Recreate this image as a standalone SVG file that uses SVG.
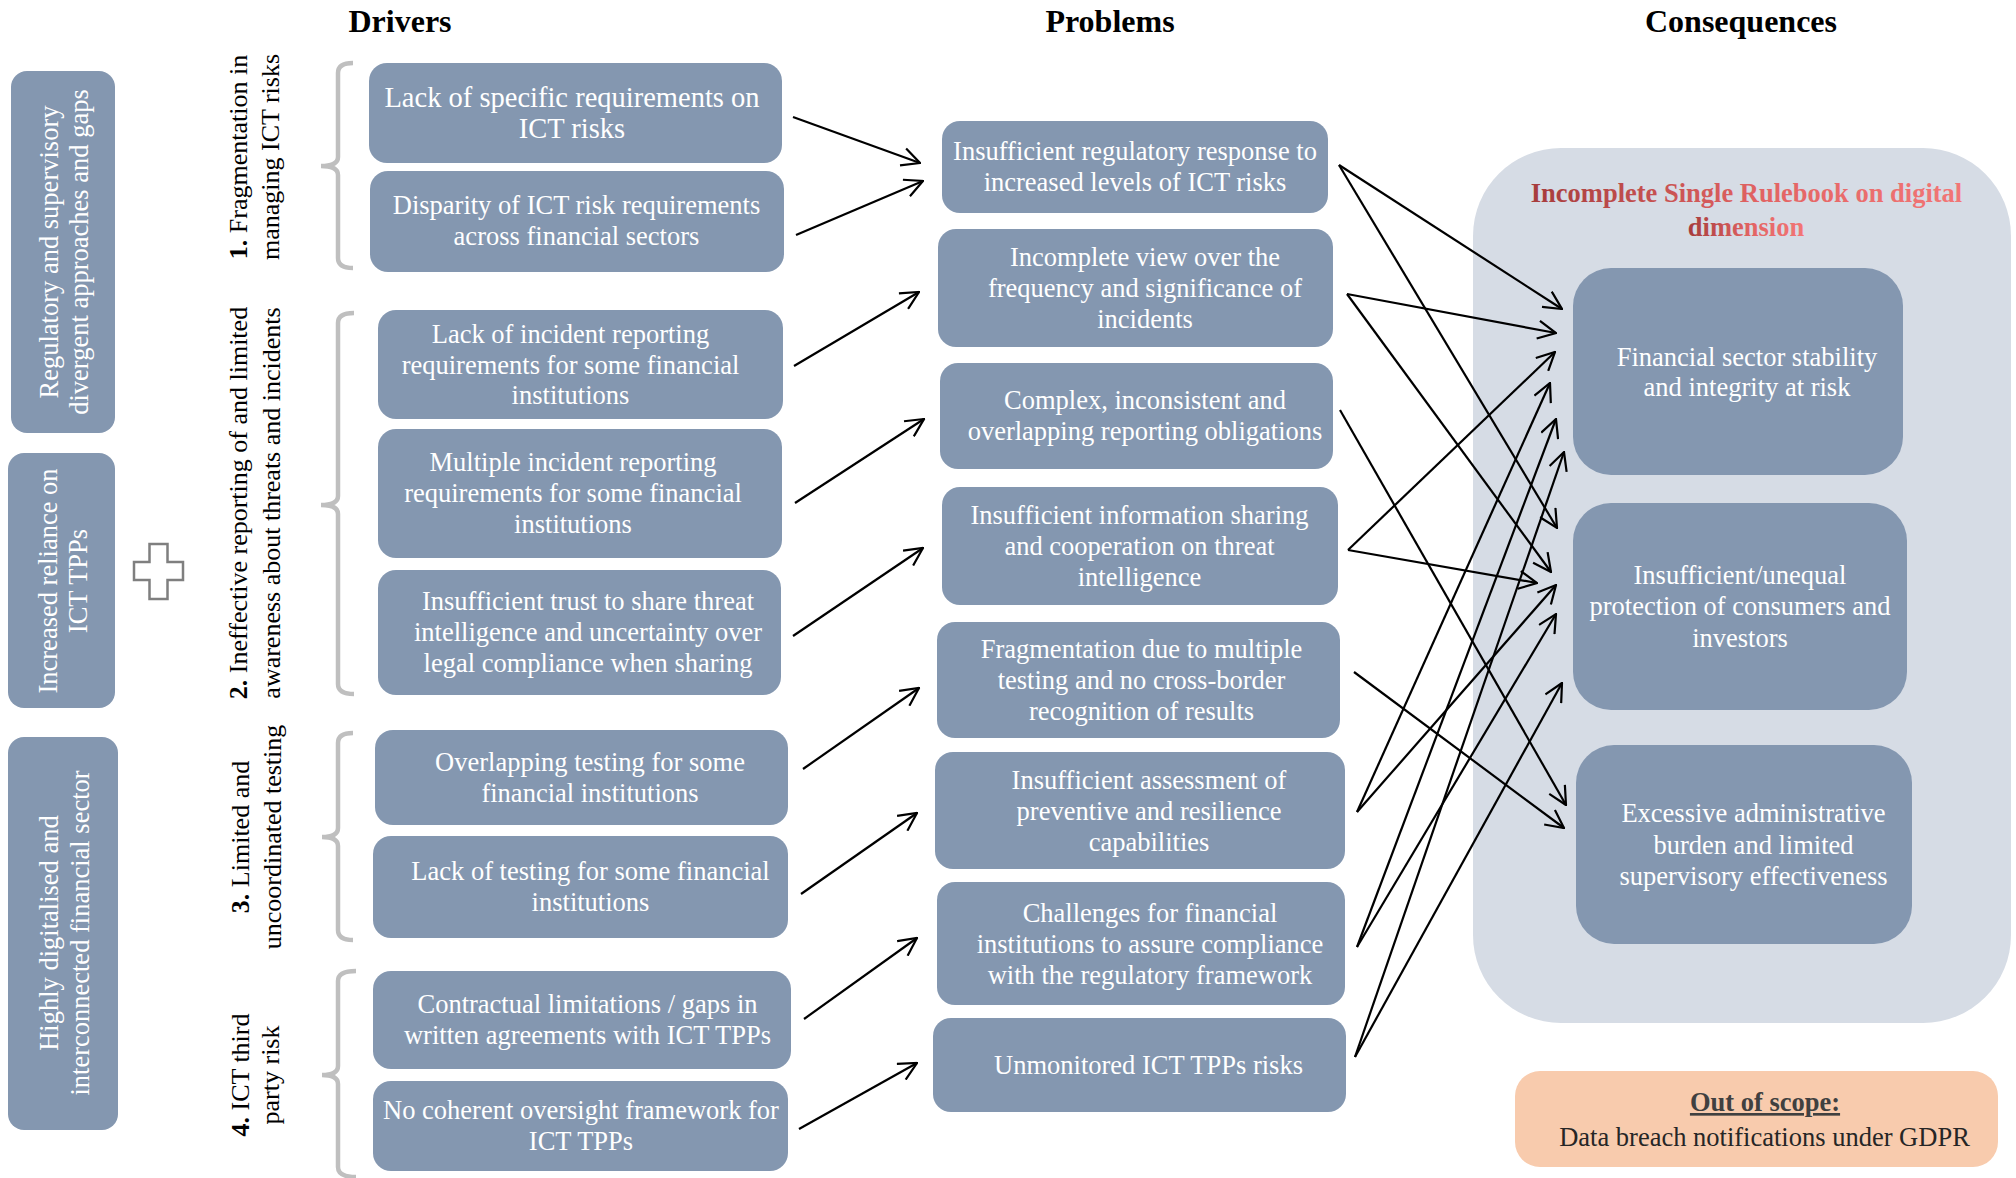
<svg xmlns="http://www.w3.org/2000/svg" width="2016" height="1178" viewBox="0 0 2016 1178">
<style>
text{font-family:"Liberation Serif","Times New Roman",serif}
.box{fill:#8497B0}
.bt{fill:#FFFFFF;font-size:26.5px;text-anchor:middle}
.hd{font-size:32px;font-weight:bold;text-anchor:middle;fill:#000}
.vl{font-size:26px;text-anchor:middle;fill:#000}
.br{fill:none;stroke:#BFBFBF;stroke-width:4.5}
.cn{fill:none;stroke:#000;stroke-width:2.2}
</style>
<defs>
<marker id="ah" markerUnits="userSpaceOnUse" markerWidth="20" markerHeight="20" viewBox="0 0 20 20" refX="19" refY="10" orient="auto">
<path d="M1,1 L19,10 L1,19" fill="none" stroke="#000" stroke-width="2.2"/>
</marker>
<linearGradient id="red" x1="0" y1="0" x2="1" y2="0">
<stop offset="0" stop-color="#A63C3C"/>
<stop offset="0.55" stop-color="#E36464"/>
<stop offset="1" stop-color="#F27676"/>
</linearGradient>
</defs>
<rect width="2016" height="1178" fill="#FFFFFF"/>

<g id="headers">
<text class="hd" x="400" y="31.5">Drivers</text>
<text class="hd" x="1110" y="31.5">Problems</text>
<text class="hd" x="1741" y="31.5">Consequences</text>
</g>

<g id="context-a">
<rect class="box" x="11" y="71" width="104" height="362" rx="16"/>
<text class="bt" transform="translate(58,252) rotate(-90)">Regulatory and supervisory</text>
<text class="bt" transform="translate(88,252) rotate(-90)">divergent approaches and gaps</text>
</g>
<g id="context-b">
<rect class="box" x="8" y="453" width="107" height="255" rx="16"/>
<text class="bt" transform="translate(57,581) rotate(-90)">Increased reliance on</text>
<text class="bt" transform="translate(87,581) rotate(-90)">ICT TPPs</text>
</g>
<g id="context-c">
<rect class="box" x="8" y="737" width="110" height="393" rx="16"/>
<text class="bt" transform="translate(58,933) rotate(-90)">Highly digitalised and</text>
<text class="bt" transform="translate(89,933) rotate(-90)">interconnected financial sector</text>
</g>
<g id="plus">
<path d="M149.5,544 H167.5 V562 H183 V580 H167.5 V599 H149.5 V580 H134 V562 H149.5 Z" fill="#FFFFFF" stroke="#7F7F7F" stroke-width="2.5"/>
</g>

<g id="group-1">
<path class="br" d="M353,63 Q338,63 338,73 V157 Q338,166 321,166 Q338,166 338,175 V258 Q338,268 353,268"/>
<text class="vl" transform="translate(247,157) rotate(-90)"><tspan font-weight="bold">1.</tspan> Fragmentation in</text>
<text class="vl" transform="translate(279,157) rotate(-90)">managing ICT risks</text>
</g>
<g id="group-2">
<path class="br" d="M354,313 Q338,313 338,323 V496 Q338,505 321,505 Q338,505 338,514 V684 Q338,694 354,694"/>
<text class="vl" transform="translate(247,503) rotate(-90)"><tspan font-weight="bold">2.</tspan> Ineffective reporting of and limited</text>
<text class="vl" transform="translate(280,503) rotate(-90)">awareness about threats and incidents</text>
</g>
<g id="group-3">
<path class="br" d="M353,733 Q338,733 338,743 V828 Q338,837 322,837 Q338,837 338,846 V930 Q338,940 353,940"/>
<text class="vl" transform="translate(249,837) rotate(-90)"><tspan font-weight="bold">3.</tspan> Limited and</text>
<text class="vl" transform="translate(281,837) rotate(-90)">uncoordinated testing</text>
</g>
<g id="group-4">
<path class="br" d="M356,971 Q338,971 338,981 V1066 Q338,1075 322,1075 Q338,1075 338,1084 V1167 Q338,1177 356,1177"/>
<text class="vl" transform="translate(249,1075) rotate(-90)"><tspan font-weight="bold">4.</tspan> ICT third</text>
<text class="vl" transform="translate(279,1075) rotate(-90)">party risk</text>
</g>

<g id="driver-1">
<rect class="box" x="369" y="63" width="413" height="100" rx="18"/>
<text class="bt" style="font-size:28.5px" x="572" y="106.5">Lack of specific requirements on</text>
<text class="bt" style="font-size:28.5px" x="572" y="137.5">ICT risks</text>
</g>
<g id="driver-2">
<rect class="box" x="370" y="171" width="414" height="101" rx="18"/>
<text class="bt" x="576.5" y="214">Disparity of ICT risk requirements</text>
<text class="bt" x="576.5" y="245">across financial sectors</text>
</g>
<g id="driver-3">
<rect class="box" x="378" y="310" width="405" height="109" rx="18"/>
<text class="bt" x="570.5" y="343">Lack of incident reporting</text>
<text class="bt" x="570.5" y="373.5">requirements for some financial</text>
<text class="bt" x="570.5" y="404">institutions</text>
</g>
<g id="driver-4">
<rect class="box" x="378" y="429" width="404" height="129" rx="18"/>
<text class="bt" x="573" y="471">Multiple incident reporting</text>
<text class="bt" x="573" y="502">requirements for some financial</text>
<text class="bt" x="573" y="533">institutions</text>
</g>
<g id="driver-5">
<rect class="box" x="378" y="570" width="403" height="125" rx="18"/>
<text class="bt" x="588" y="610">Insufficient trust to share threat</text>
<text class="bt" x="588" y="641">intelligence and uncertainty over</text>
<text class="bt" x="588" y="672">legal compliance when sharing</text>
</g>
<g id="driver-6">
<rect class="box" x="375" y="730" width="413" height="95" rx="18"/>
<text class="bt" x="590" y="771">Overlapping testing for some</text>
<text class="bt" x="590" y="802">financial institutions</text>
</g>
<g id="driver-7">
<rect class="box" x="373" y="836" width="415" height="102" rx="18"/>
<text class="bt" x="590.5" y="880">Lack of testing for some financial</text>
<text class="bt" x="590.5" y="911">institutions</text>
</g>
<g id="driver-8">
<rect class="box" x="373" y="971" width="418" height="98" rx="18"/>
<text class="bt" x="587.5" y="1013">Contractual limitations / gaps in</text>
<text class="bt" x="587.5" y="1044">written agreements with ICT TPPs</text>
</g>
<g id="driver-9">
<rect class="box" x="373" y="1081" width="415" height="90" rx="18"/>
<text class="bt" x="581" y="1118.5">No coherent oversight framework for</text>
<text class="bt" x="581" y="1150">ICT TPPs</text>
</g>

<g id="problem-1">
<rect class="box" x="942" y="121" width="386" height="92" rx="18"/>
<text class="bt" x="1135" y="160">Insufficient regulatory response to</text>
<text class="bt" x="1135" y="191">increased levels of ICT risks</text>
</g>
<g id="problem-2">
<rect class="box" x="938" y="229" width="395" height="118" rx="18"/>
<text class="bt" x="1145" y="266">Incomplete view over the</text>
<text class="bt" x="1145" y="297">frequency and significance of</text>
<text class="bt" x="1145" y="328">incidents</text>
</g>
<g id="problem-3">
<rect class="box" x="940" y="363" width="393" height="106" rx="18"/>
<text class="bt" x="1145" y="409">Complex, inconsistent and</text>
<text class="bt" x="1145" y="440">overlapping reporting obligations</text>
</g>
<g id="problem-4">
<rect class="box" x="942" y="487" width="396" height="118" rx="18"/>
<text class="bt" x="1139.5" y="524">Insufficient information sharing</text>
<text class="bt" x="1139.5" y="555">and cooperation on threat</text>
<text class="bt" x="1139.5" y="586">intelligence</text>
</g>
<g id="problem-5">
<rect class="box" x="937" y="622" width="403" height="116" rx="18"/>
<text class="bt" x="1141.5" y="658">Fragmentation due to multiple</text>
<text class="bt" x="1141.5" y="689">testing and no cross-border</text>
<text class="bt" x="1141.5" y="720">recognition of results</text>
</g>
<g id="problem-6">
<rect class="box" x="935" y="752" width="410" height="117" rx="18"/>
<text class="bt" x="1149" y="788.5">Insufficient assessment of</text>
<text class="bt" x="1149" y="819.5">preventive and resilience</text>
<text class="bt" x="1149" y="850.5">capabilities</text>
</g>
<g id="problem-7">
<rect class="box" x="937" y="882" width="408" height="123" rx="18"/>
<text class="bt" x="1150" y="922">Challenges for financial</text>
<text class="bt" x="1150" y="953">institutions to assure compliance</text>
<text class="bt" x="1150" y="984">with the regulatory framework</text>
</g>
<g id="problem-8">
<rect class="box" x="933" y="1018" width="413" height="94" rx="18"/>
<text class="bt" x="1148.5" y="1074">Unmonitored ICT TPPs risks</text>
</g>

<g id="rulebook">
<rect x="1473" y="148" width="538" height="875" rx="88" fill="#D6DCE5"/>
<text x="1746.5" y="201.5" font-size="26.5" font-weight="bold" text-anchor="middle" fill="url(#red)">Incomplete Single Rulebook on digital</text>
<text x="1746" y="236" font-size="26.5" font-weight="bold" text-anchor="middle" fill="url(#red)">dimension</text>
</g>
<g id="consequence-1">
<rect class="box" x="1573" y="268" width="330" height="207" rx="38"/>
<text class="bt" x="1747" y="365.5">Financial sector stability</text>
<text class="bt" x="1747" y="396">and integrity at risk</text>
</g>
<g id="consequence-2">
<rect class="box" x="1573" y="503" width="334" height="207" rx="38"/>
<text class="bt" x="1740" y="584">Insufficient/unequal</text>
<text class="bt" x="1740" y="615">protection of consumers and</text>
<text class="bt" x="1740" y="646.5">investors</text>
</g>
<g id="consequence-3">
<rect class="box" x="1576" y="745" width="336" height="199" rx="38"/>
<text class="bt" x="1753.5" y="822">Excessive administrative</text>
<text class="bt" x="1753.5" y="853.5">burden and limited</text>
<text class="bt" x="1753.5" y="885">supervisory effectiveness</text>
</g>
<g id="out-of-scope">
<rect x="1515" y="1071" width="483" height="96" rx="25" fill="#F8CBAD"/>
<text x="1765" y="1111" font-size="26.5" font-weight="bold" text-anchor="middle" fill="#404040" text-decoration="underline">Out of scope:</text>
<text x="1764.5" y="1146" font-size="26.5" text-anchor="middle" fill="#262626">Data breach notifications under GDPR</text>
</g>

<g id="connectors" class="cn-group">
<line class="cn" x1="793" y1="117" x2="920" y2="163" marker-end="url(#ah)"/>
<line class="cn" x1="796" y1="235" x2="923" y2="181" marker-end="url(#ah)"/>
<line class="cn" x1="794" y1="366" x2="919" y2="292" marker-end="url(#ah)"/>
<line class="cn" x1="795" y1="503" x2="924" y2="419" marker-end="url(#ah)"/>
<line class="cn" x1="793" y1="636" x2="923" y2="548" marker-end="url(#ah)"/>
<line class="cn" x1="803" y1="769" x2="919" y2="688" marker-end="url(#ah)"/>
<line class="cn" x1="801" y1="894" x2="917" y2="813" marker-end="url(#ah)"/>
<line class="cn" x1="804" y1="1019" x2="917" y2="938" marker-end="url(#ah)"/>
<line class="cn" x1="799" y1="1129" x2="917" y2="1063" marker-end="url(#ah)"/>

<line class="cn" x1="1339" y1="165" x2="1562" y2="309" marker-end="url(#ah)"/>
<line class="cn" x1="1339" y1="165" x2="1557" y2="528" marker-end="url(#ah)"/>
<line class="cn" x1="1347" y1="294" x2="1556" y2="333" marker-end="url(#ah)"/>
<line class="cn" x1="1347" y1="294" x2="1551" y2="572" marker-end="url(#ah)"/>
<line class="cn" x1="1340" y1="410" x2="1566" y2="805" marker-end="url(#ah)"/>
<line class="cn" x1="1348" y1="550" x2="1555" y2="352" marker-end="url(#ah)"/>
<line class="cn" x1="1348" y1="550" x2="1537" y2="583" marker-end="url(#ah)"/>
<line class="cn" x1="1354" y1="672" x2="1564" y2="828" marker-end="url(#ah)"/>
<line class="cn" x1="1357" y1="812" x2="1550" y2="383" marker-end="url(#ah)"/>
<line class="cn" x1="1357" y1="812" x2="1556" y2="585" marker-end="url(#ah)"/>
<line class="cn" x1="1357" y1="947" x2="1556" y2="419" marker-end="url(#ah)"/>
<line class="cn" x1="1357" y1="947" x2="1556" y2="614" marker-end="url(#ah)"/>
<line class="cn" x1="1355" y1="1057" x2="1564" y2="452" marker-end="url(#ah)"/>
<line class="cn" x1="1355" y1="1057" x2="1562" y2="683" marker-end="url(#ah)"/>
</g>
</svg>
